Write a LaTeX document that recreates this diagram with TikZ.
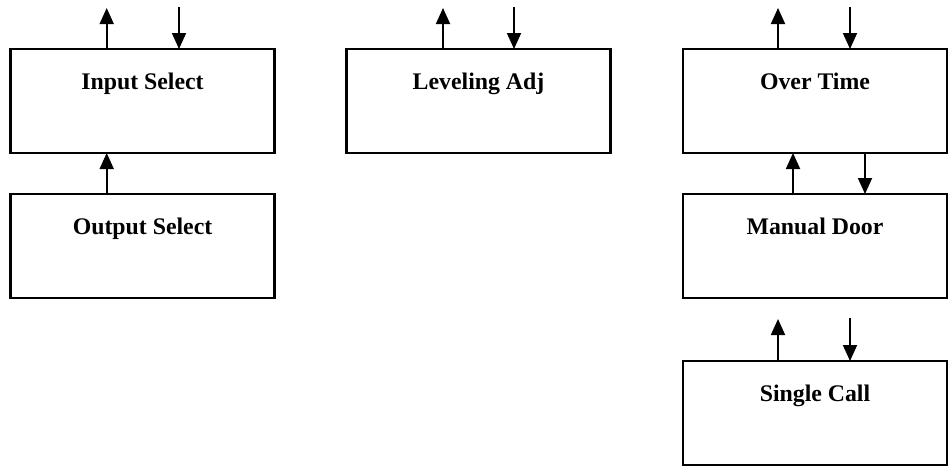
\documentclass[tikz,border=0pt]{standalone}
\usepackage{fontspec}
\setmainfont{Liberation Serif}
\usetikzlibrary{arrows.meta}
\begin{document}
\begin{tikzpicture}[x=1pt,y=-1pt,
  box/.style={draw=black, line width=2.3pt, rectangle, minimum width=264pt, minimum height=104pt, inner sep=0pt, outer sep=0pt},
  lbl/.style={anchor=base, yshift=-40pt, font=\fontsize{23.8}{28}\selectfont\bfseries, inner sep=0pt},
  arr/.style={line width=1.8pt, -{Triangle[length=16pt,width=14pt]}}]
\useasboundingbox (0,0) rectangle (952,466);
% boxes
\node[box, label={[lbl]north:Input Select}] (in) at (142.5,101) {};
\node[box, label={[lbl]north:Output Select}] (out) at (142.5,246) {};
\node[box, label={[lbl]north:Leveling Adj}] (lev) at (478.5,101) {};
\node[box, label={[lbl]north:Over Time}] (ot) at (815,101) {};
\node[box, label={[lbl]north:Manual Door}] (md) at (815,246) {};
\node[box, label={[lbl]north:Single Call}] (sc) at (815,413) {};
% free ends
\coordinate (inU) at (106.7,8);
\coordinate (inD) at (179,7);
\coordinate (levU) at (443,8);
\coordinate (levD) at (514,7);
\coordinate (otU) at (778,8);
\coordinate (otD) at (850,7);
\coordinate (scU) at (778,319);
\coordinate (scD) at (850,318);
\coordinate (mdU) at (793,0);
\coordinate (mdD) at (865,0);
% arrows
\draw[arr] (in.north -| inU) -- (inU);
\draw[arr] (inD) -- (in.north -| inD);
\draw[arr] (out.north -| inU) -- (in.south -| inU);
\draw[arr] (lev.north -| levU) -- (levU);
\draw[arr] (levD) -- (lev.north -| levD);
\draw[arr] (ot.north -| otU) -- (otU);
\draw[arr] (otD) -- (ot.north -| otD);
\draw[arr] (md.north -| mdU) -- (ot.south -| mdU);
\draw[arr] (ot.south -| mdD) -- (md.north -| mdD);
\draw[arr] (sc.north -| scU) -- (scU);
\draw[arr] (scD) -- (sc.north -| scD);
\end{tikzpicture}
\end{document}
